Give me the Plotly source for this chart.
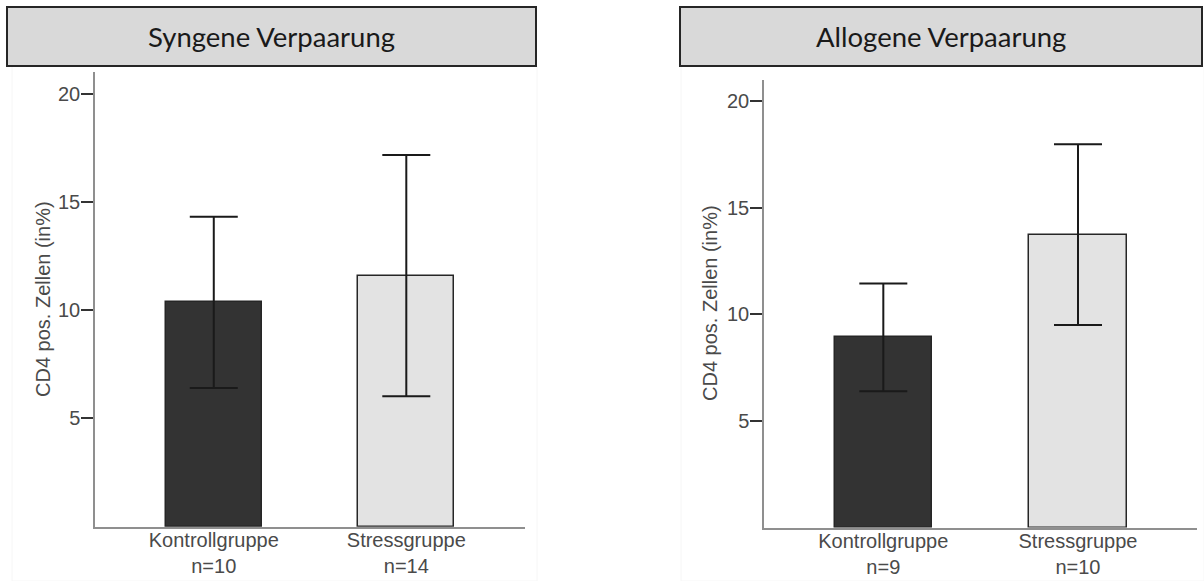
import plotly.graph_objects as go

# ---- data ----
categories = ["Kontrollgruppe", "Stressgruppe"]
syngen_n = ["n=10", "n=14"]
allogen_n = ["n=9", "n=10"]
syngen_mean = [10.36, 11.60]
syngen_err = [3.95, 5.57]
allogen_mean = [8.92, 13.74]
allogen_err = [2.53, 4.24]
panel_titles = ["Syngene Verpaarung", "Allogene Verpaarung"]
y_title = "CD4 pos. Zellen (in%)"
y_ticks = [5, 10, 15, 20]
bar_colors = ["#333333", "#e3e3e3"]

W, H = 1204, 581


def px_x(x):
    return x / W


def px_y(y):
    return (H - y) / H


fig = go.Figure()

panels = [
    (syngen_mean, syngen_err, syngen_n, "x", "y"),
    (allogen_mean, allogen_err, allogen_n, "x2", "y2"),
]
for means, errs, ns, xa, ya in panels:
    xlabels = [f"{c}<br>{n}" for c, n in zip(categories, ns)]
    fig.add_trace(go.Bar(
        x=xlabels, y=means, xaxis=xa, yaxis=ya, width=0.5,
        marker=dict(color=bar_colors, line=dict(color="#262626", width=1.5)),
        error_y=dict(type="data", array=errs, visible=True,
                     color="#1a1a1a", thickness=2, width=24),
        showlegend=False, hoverinfo="skip",
    ))

tick_font = dict(family="Liberation Sans, Arial, sans-serif", size=20, color="#4a4a4a")

common_x = dict(type="category", showline=True, linecolor="#8f8f8f", linewidth=1.5,
                ticks="", tickfont=tick_font, showgrid=False, zeroline=False,
                fixedrange=True, ticklabelstandoff=-5)
common_y = dict(range=[0, 21], tickvals=y_ticks, showline=True, linecolor="#8f8f8f",
                linewidth=1.5, ticks="outside", ticklen=12, tickwidth=2,
                tickcolor="#333333", tickfont=tick_font, showgrid=False,
                zeroline=False, fixedrange=True, ticklabelstandoff=-3)

fig.update_layout(
    width=W, height=H,
    margin=dict(l=0, r=0, t=0, b=0),
    paper_bgcolor="white", plot_bgcolor="white",
    bargap=0,
    xaxis=dict(common_x, domain=[px_x(95), px_x(524.5)], range=[-0.617, 1.614], anchor="y"),
    yaxis=dict(common_y, domain=[px_y(526.7), px_y(72)], anchor="x"),
    xaxis2=dict(common_x, domain=[px_x(764), px_x(1197.3)], range=[-0.613, 1.613], anchor="y2"),
    yaxis2=dict(common_y, domain=[px_y(527.5), px_y(80)], anchor="x2"),
)

# faint panel frames
for x0, x1 in [(12, 537), (681, 1204)]:
    fig.add_shape(type="rect", xref="paper", yref="paper",
                  x0=px_x(x0), x1=px_x(x1), y0=0, y1=px_y(66),
                  line=dict(color="#f6f6f6", width=1), fillcolor="rgba(0,0,0,0)",
                  layer="below")

# title boxes
boxes = [(7, 536), (680, 1202)]
for (x0, x1), t in zip(boxes, panel_titles):
    fig.add_shape(type="rect", xref="paper", yref="paper",
                  x0=px_x(x0), x1=px_x(x1), y0=px_y(66), y1=px_y(7),
                  line=dict(color="#262626", width=2), fillcolor="#d9d9d9")
    fig.add_annotation(xref="paper", yref="paper", x=px_x((x0 + x1) / 2),
                       y=px_y(36.5), text=t, showarrow=False,
                       font=dict(family="Lato, Carlito, sans-serif", size=27.5, color="#1a1a1a"),
                       xanchor="center", yanchor="middle")

# y-axis titles
for xc, yc in [(43, 299), (710, 303)]:
    fig.add_annotation(xref="paper", yref="paper", x=px_x(xc), y=px_y(yc),
                       text=y_title, textangle=-90, showarrow=False,
                       font=dict(family="Liberation Sans, Arial, sans-serif", size=20,
                                 color="#4a4a4a"),
                       xanchor="center", yanchor="middle")

fig.write_html(
    "out.html",
    config={"displayModeBar": False},
    post_script="document.body.style.margin='0';document.body.style.overflow='hidden';",
)
